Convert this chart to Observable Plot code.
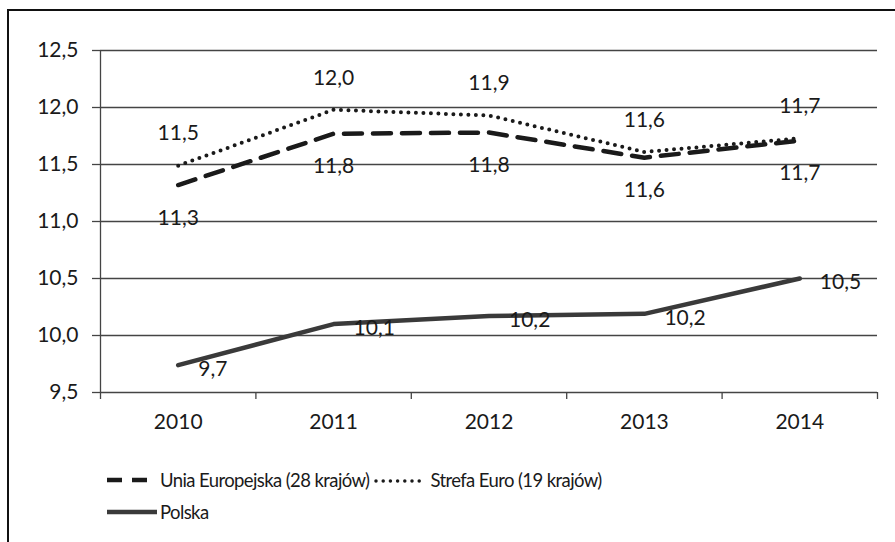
<!DOCTYPE html>
<html><head><meta charset="utf-8">
<script src="https://cdn.jsdelivr.net/npm/d3@7"></script>
<script src="https://cdn.jsdelivr.net/npm/@observablehq/plot@0.6"></script>
<style>
body{margin:0;background:#fff;}
#wrap{position:relative;width:895px;height:542px;overflow:hidden;background:#fff;font-family:Lato,sans-serif;color:#1a1a1a;}
#frame{position:absolute;left:7px;top:9px;width:1000px;height:700px;border-left:2px solid #111;border-top:2px solid #111;}
#chart{position:absolute;left:0;top:0;}
.leg{position:absolute;font-size:18.5px;letter-spacing:-0.6px;display:flex;align-items:center;white-space:nowrap;}
.leg svg{display:block;}
</style></head><body>
<div id="wrap"><div id="frame"></div><div id="chart"></div>
<div class="leg" style="left:105px;top:469px;">
<svg width="50" height="20"><line x1="2" x2="44" y1="10" y2="10" stroke="#1a1a1a" stroke-width="4.5" stroke-dasharray="15,10"/></svg>
<span style="margin-left:5px">Unia Europejska (28 krajów)</span>
<svg width="50" height="20" style="margin-left:4px"><line x1="3" x2="48" y1="11" y2="11" stroke="#1a1a1a" stroke-width="3.5" stroke-linecap="round" stroke-dasharray="0,7.2"/></svg>
<span style="margin-left:7px">Strefa Euro (19 krajów)</span>
</div>
<div class="leg" style="left:105px;top:501px;">
<svg width="52" height="20"><line x1="2" x2="52" y1="10" y2="10" stroke="#3a3a3a" stroke-width="4.5"/></svg>
<span style="margin-left:3px">Polska</span>
</div>
</div>
<script>
const years = [2010, 2011, 2012, 2013, 2014];
const ueValues = [11.32, 11.77, 11.78, 11.56, 11.71];
const euroValues = [11.49, 11.98, 11.93, 11.61, 11.73];
const polskaValues = [9.74, 10.1, 10.17, 10.19, 10.5];
const yTicks = [9.5, 10, 10.5, 11, 11.5, 12, 12.5];

const fmt = d => d.toFixed(1).replace(".", ",");
const mk = vals => years.map((year, i) => ({year, value: vals[i]}));
const ue = mk(ueValues), euro = mk(euroValues), polska = mk(polskaValues);
const bounds = [years[0] - 0.5, ...years.map(y => y + 0.5)];

const chart = Plot.plot({
  width: 895, height: 445,
  marginLeft: 100, marginRight: 18, marginTop: 50, marginBottom: 53,
  x: {type: "linear", domain: [years[0] - 0.5, years[years.length - 1] + 0.5]},
  y: {domain: [yTicks[0], yTicks[yTicks.length - 1]]},
  style: {fontFamily: "Lato, sans-serif", fontSize: "21px", color: "#1a1a1a", background: "transparent"},
  marks: [
    Plot.ruleY(yTicks, {stroke: "#444", strokeWidth: 1.3}),
    Plot.ruleX([bounds[0]], {y1: yTicks[0], y2: yTicks[yTicks.length - 1], stroke: "#444", strokeWidth: 1.3}),
    Plot.axisY({ticks: yTicks, tickSize: 8, tickPadding: 14, tickFormat: fmt, label: null, stroke: "#444", strokeWidth: 1.3}),
    Plot.axisX({ticks: bounds, tickSize: 7, tickFormat: () => "", label: null, stroke: "#444", strokeWidth: 1.3}),
    Plot.axisX({ticks: years, tickSize: 0, tickPadding: 22, tickFormat: d => String(d), label: null}),
    Plot.line(polska, {x: "year", y: "value", stroke: "#3a3a3a", strokeWidth: 4.5}),
    Plot.line(ue, {x: "year", y: "value", stroke: "#1a1a1a", strokeWidth: 4.5, strokeDasharray: "18,11"}),
    Plot.line(euro, {x: "year", y: "value", stroke: "#1a1a1a", strokeWidth: 4, strokeLinecap: "round", strokeDasharray: "0,7.5"}),
    Plot.text(euro, {x: "year", y: "value", text: d => fmt(d.value), dy: -32, fill: "#1a1a1a"}),
    Plot.text(ue, {x: "year", y: "value", text: d => fmt(d.value), dy: 33, fill: "#1a1a1a"}),
    Plot.text(polska, {x: "year", y: "value", text: d => fmt(d.value), dx: 20, dy: 4, textAnchor: "start", fill: "#1a1a1a"})
  ]
});
document.getElementById("chart").appendChild(chart);
</script>
</body></html>
